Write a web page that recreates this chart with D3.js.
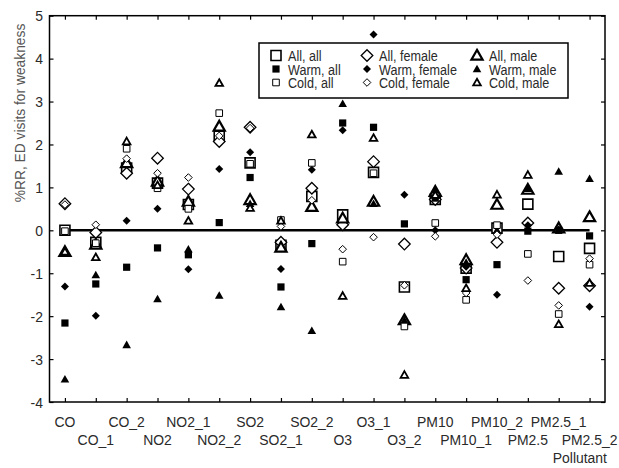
<html>
<head>
  <title></title>
  <script src="https://cdn.jsdelivr.net/npm/d3@7"></script>
<style type="text/css">
body { margin: 0; background: #fff; }
text { font-family: "Liberation Sans", Arial, sans-serif; fill: #2a2a2a; }
</style>
</head>
<body>
<script type="text/javascript">

// categories along the x axis
var cats = ['CO', 'CO_1', 'CO_2', 'NO2', 'NO2_1', 'NO2_2', 'SO2', 'SO2_1', 'SO2_2',
            'O3', 'O3_1', 'O3_2', 'PM10', 'PM10_1', 'PM10_2', 'PM2.5', 'PM2.5_1', 'PM2.5_2'];
var yTicks = [-4, -3, -2, -1, 0, 1, 2, 3, 4, 5];

// %RR values
var allAll     = [0.0, -0.28, 1.45, 1.1, 0.6, 2.19, 1.57, -0.35, 0.79, 0.36, 1.35, -1.32, 0.72, -0.88, 0.05, 0.61, -0.61, -0.42];
var allFemale  = [0.62, -0.05, 1.33, 1.68, 0.96, 2.07, 2.4, -0.28, 0.98, 0.13, 1.6, -0.32, 0.72, -0.88, -0.28, 0.17, -1.35, -1.29];
var allMale    = [-0.5, -0.33, 1.57, 1.14, 0.67, 2.42, 0.71, -0.4, 0.55, 0.28, 0.67, -2.09, 0.9, -0.69, 0.6, 0.95, 0.05, 0.31];
var warmAll    = [-2.16, -1.25, -0.86, -0.41, -0.57, 0.18, 1.23, -1.32, -0.31, 2.5, 2.4, 0.15, 0.75, -1.15, -0.8, -0.02, 0.0, -0.13];
var warmFemale = [-1.31, -1.99, 0.22, 0.5, -0.91, 1.43, 1.82, -0.9, 1.41, 2.33, 4.56, 0.83, 0.0, -0.85, -1.5, 0.12, 0.02, -1.78];
var warmMale   = [-3.47, -1.04, -2.67, -1.6, -0.44, -1.52, 0.62, -1.79, -2.34, 2.95, 0.62, -2.1, 0.93, -0.75, 0.0, 0.97, 1.37, 1.2];
var coldAll    = [-0.02, -0.3, 1.9, 0.98, 0.5, 2.73, 1.55, 0.24, 1.57, -0.73, 1.33, -2.24, 0.17, -1.62, 0.12, -0.55, -1.95, -0.8];
var coldFemale = [0.6, 0.13, 1.67, 1.33, 1.23, 2.2, 2.38, 0.09, 0.7, -0.44, -0.16, -1.28, -0.14, -1.46, -0.1, -1.17, -1.75, -0.66];
var coldMale   = [-0.5, -0.63, 2.07, 1.05, 0.22, 3.43, 0.52, 0.22, 2.23, -1.53, 2.15, -3.37, 0.82, -1.35, 0.83, 1.29, -2.19, -1.23];

// shapes: r = half size
function square(r) { return 'M' + (-r) + ',' + (-r) + 'h' + (2 * r) + 'v' + (2 * r) + 'h' + (-2 * r) + 'Z'; }
function diamond(r) { return 'M0,' + (-r) + 'L' + r + ',0L0,' + r + 'L' + (-r) + ',0Z'; }
function triangle(r) { return 'M0,' + (-r) + 'L' + r + ',' + (r * 0.75) + 'L' + (-r) + ',' + (r * 0.75) + 'Z'; }

var series = [
  {name: 'All, all',     values: allAll,     path: square(5),     fill: '#fff', sw: 1.6},
  {name: 'All, female',  values: allFemale,  path: diamond(5.8),  fill: '#fff', sw: 1.3},
  {name: 'All, male',    values: allMale,    path: triangle(5.6), fill: '#fff', sw: 2.2},
  {name: 'Warm, all',    values: warmAll,    path: square(3.6),   fill: '#000', sw: 0},
  {name: 'Warm, female', values: warmFemale, path: diamond(4),    fill: '#000', sw: 0},
  {name: 'Warm, male',   values: warmMale,   path: triangle(4.3), fill: '#000', sw: 0},
  {name: 'Cold, all',    values: coldAll,    path: square(3.3),   fill: '#fff', sw: 1},
  {name: 'Cold, female', values: coldFemale, path: diamond(3.8),  fill: '#fff', sw: 1},
  {name: 'Cold, male',   values: coldMale,   path: triangle(3.8), fill: '#fff', sw: 1.8}
];

var w = 619, h = 468;
var mLeft = 49.5, mRight = 605, mTop = 15.7, mBottom = 402;

var svg = d3.select('body').append('svg')
  .attr('width', w)
  .attr('height', h);

var x = d3.scalePoint().domain(cats).range([mLeft, mRight]).padding(0.5);
var y = d3.scaleLinear().domain([-4, 5]).range([mBottom, mTop]);

// narrow text helper (condensed look)
function label(g, tx, ty, str, anchor, sq) {
  return g.append('text')
    .attr('transform', 'translate(' + tx + ',' + ty + ') scale(' + (sq || 0.84) + ',1)')
    .attr('text-anchor', anchor || 'start')
    .attr('font-size', 15)
    .text(str);
}

// frame with inward ticks on every side
svg.append('g').attr('transform', 'translate(0,' + mBottom + ')')
  .call(d3.axisBottom(x).tickSize(-4).tickFormat(''));
svg.append('g').attr('transform', 'translate(0,' + mTop + ')')
  .call(d3.axisTop(x).tickSize(-4).tickFormat(''));
svg.append('g').attr('transform', 'translate(' + mLeft + ',0)')
  .call(d3.axisLeft(y).tickValues(yTicks).tickSize(-4).tickFormat(''));
svg.append('g').attr('transform', 'translate(' + mRight + ',0)')
  .call(d3.axisRight(y).tickValues(yTicks).tickSize(-4).tickFormat(''));
svg.selectAll('.domain').remove();
svg.selectAll('.tick line').attr('stroke', '#000').attr('stroke-width', 1.2);

svg.append('rect')
  .attr('x', mLeft).attr('y', mTop)
  .attr('width', mRight - mLeft).attr('height', mBottom - mTop)
  .attr('fill', 'none').attr('stroke', '#000').attr('stroke-width', 1.5);

// y tick labels
yTicks.forEach(function(d) { label(svg, 43, y(d) + 5.5, d, 'end', 0.93); });

// x tick labels, staggered on two rows
cats.forEach(function(d, i) { label(svg, x(d), i % 2 == 0 ? 427 : 445, d, 'middle', 0.93); });

label(svg, 607, 463, 'Pollutant', 'end', 0.93);

svg.append('text')
  .attr('transform', 'translate(25,113) rotate(-90) scale(0.92,1)')
  .attr('text-anchor', 'middle')
  .attr('font-size', 15)
  .style('fill', '#555')
  .text('%RR, ED visits for weakness');

// zero line
svg.append('line')
  .attr('x1', x(cats[0])).attr('x2', x(cats[cats.length - 1]))
  .attr('y1', y(0)).attr('y2', y(0))
  .attr('stroke', '#000').attr('stroke-width', 2.4);

// markers
series.forEach(function(s) {
  svg.append('g').selectAll('path')
    .data(s.values).enter()
    .append('path')
    .attr('transform', function(d, i) { return 'translate(' + x(cats[i]) + ',' + y(d) + ')'; })
    .attr('d', s.path)
    .attr('fill', s.fill)
    .attr('stroke', s.sw ? '#000' : 'none')
    .attr('stroke-width', s.sw);
});

// legend
var lg = svg.append('g');
lg.append('rect')
  .attr('x', 259).attr('y', 43)
  .attr('width', 309).attr('height', 55)
  .attr('fill', '#fff').attr('stroke', '#000').attr('stroke-width', 1.5);

var colX = [276, 367, 477];
var rowY = [55.5, 69, 82.5];
series.forEach(function(s, i) {
  var col = i % 3, row = Math.floor(i / 3);
  lg.append('path')
    .attr('transform', 'translate(' + colX[col] + ',' + rowY[row] + ')')
    .attr('d', s.path)
    .attr('fill', s.fill)
    .attr('stroke', s.sw ? '#000' : 'none')
    .attr('stroke-width', s.sw);
  label(lg, colX[col] + 12, rowY[row] + 5.5, s.name);
});

</script>
</body>
</html>
